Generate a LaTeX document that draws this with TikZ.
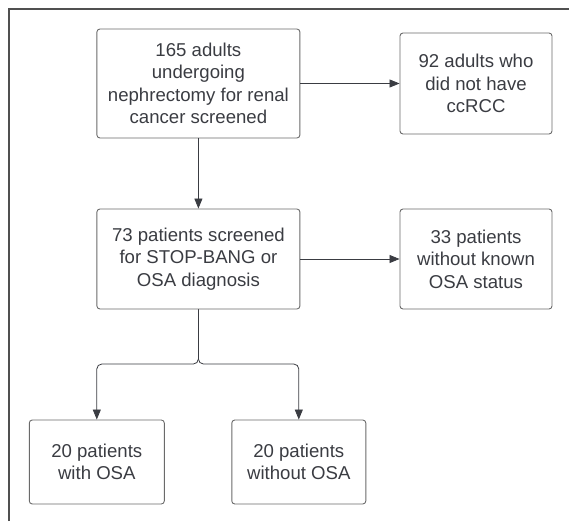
\documentclass[tikz,border=0pt]{standalone}
\usepackage{fontspec}
\setmainfont{Liberation Sans}
\usetikzlibrary{arrows.meta}
\definecolor{framegray}{HTML}{505050}
\definecolor{boxgray}{HTML}{6A6A6A}
\definecolor{inkgray}{HTML}{3A3C42}
\begin{document}
\begin{tikzpicture}[x=1pt, y=-1pt,
    box/.style={draw=boxgray, line width=0.9pt, rounded corners=3pt, align=center,
      text=inkgray, inner sep=0pt, font=\fontsize{18.6}{22.4}\selectfont},
    arr/.style={-{Triangle[length=10pt, width=8pt]}, draw=inkgray, line width=0.8pt}]
    \useasboundingbox (0, 0) rectangle (569, 521);
    \draw[framegray, line width=1.2pt] (9, 521) -- (9, 9) -- (569, 9);
    \node[box, minimum width=203pt, minimum height=109pt] (screened) at (198.4, 83.5)
      {165 adults\\undergoing\\nephrectomy for renal\\cancer screened};
    \node[box, minimum width=152pt, minimum height=101pt] (noccrcc) at (476, 83.5)
      {92 adults who\\did not have\\ccRCC};
    \node[box, minimum width=203pt, minimum height=100pt] (stopbang) at (198.4, 259)
      {73 patients screened\\for STOP-BANG or\\OSA diagnosis};
    \node[box, minimum width=152pt, minimum height=100pt] (unknown) at (476, 259)
      {33 patients\\without known\\OSA status};
    \node[box, minimum width=135pt, minimum height=84pt] (withosa) at (96.8, 462)
      {20 patients\\with OSA};
    \node[box, minimum width=134pt, minimum height=84pt] (withoutosa) at (298.8, 462)
      {20 patients\\without OSA};
    \coordinate (split) at (198.4, 364);
    \draw[arr] (screened) -- (noccrcc);
    \draw[arr] (screened) -- (stopbang);
    \draw[arr] (stopbang) -- (unknown);
    \draw[arr, rounded corners=5pt] (stopbang.south) -- (split) -| (withosa.north);
    \draw[arr, rounded corners=5pt] (stopbang.south) -- (split) -| (withoutosa.north);
  \end{tikzpicture}
\end{document}
